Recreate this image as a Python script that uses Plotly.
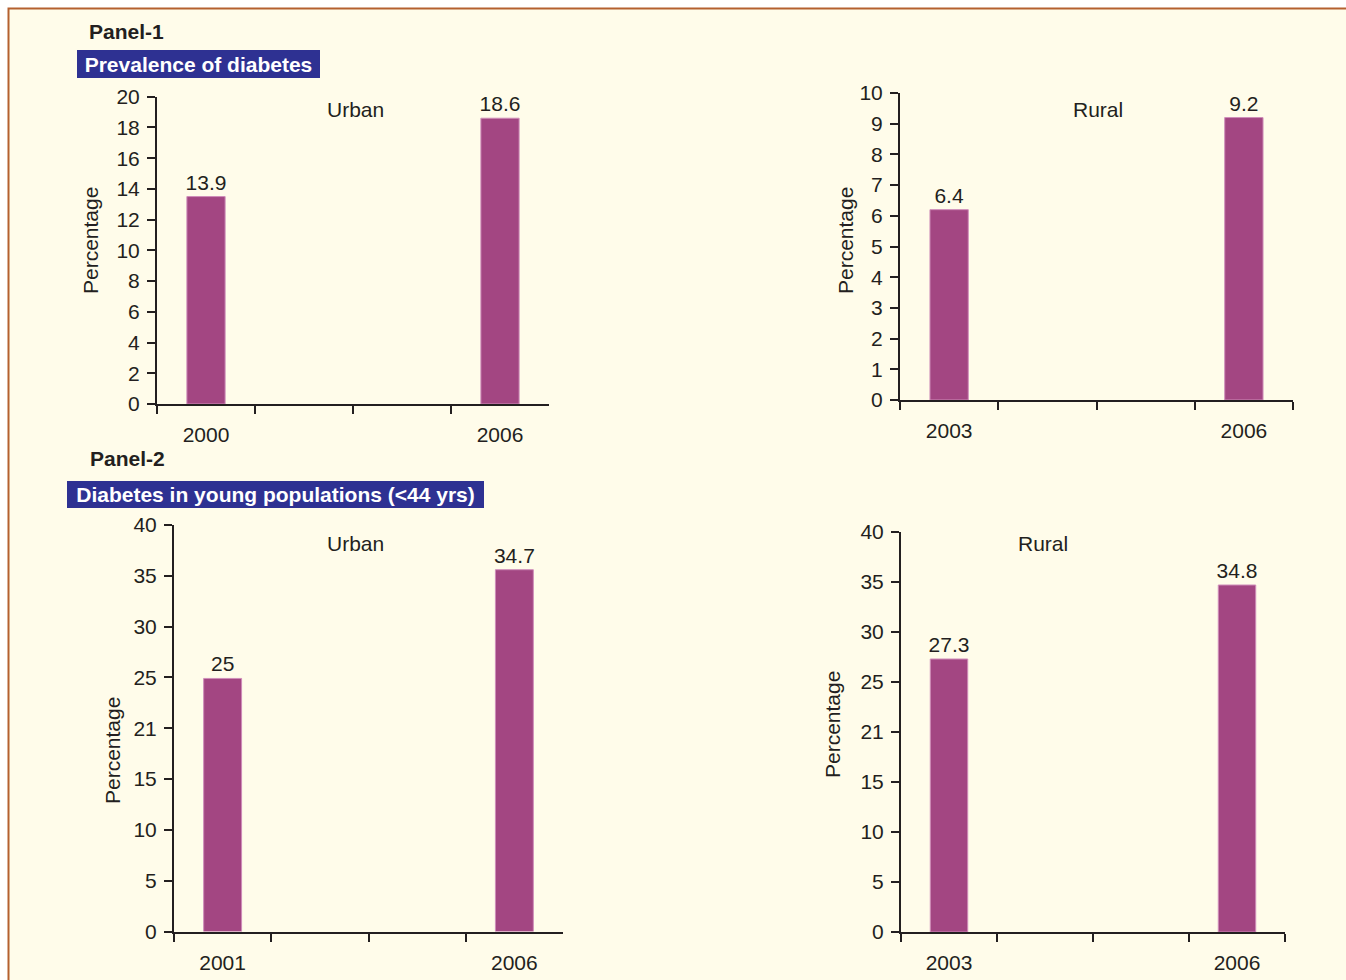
import plotly.graph_objects as go

# ---------------- data ----------------
p1_urban_cats = ["2000", " ", "  ", "2006"]
p1_urban_years = ["2000", "2006"]
p1_urban_vals = [13.5, 18.6]
p1_urban_labels = ["13.9", "18.6"]

p1_rural_cats = ["2003", " ", "  ", "2006"]
p1_rural_years = ["2003", "2006"]
p1_rural_vals = [6.2, 9.2]
p1_rural_labels = ["6.4", "9.2"]

p2_urban_cats = ["2001", " ", "  ", "2006"]
p2_urban_years = ["2001", "2006"]
p2_urban_vals = [24.9, 35.6]
p2_urban_labels = ["25", "34.7"]

p2_rural_cats = ["2003", " ", "  ", "2006"]
p2_rural_years = ["2003", "2006"]
p2_rural_vals = [27.3, 34.7]
p2_rural_labels = ["27.3", "34.8"]

p1_urban_yticks = list(range(0, 21, 2))
p1_rural_yticks = list(range(0, 11, 1))
p2_yticks = [0, 5, 10, 15, 20, 25, 30, 35, 40]
p2_yticktext = ["0", "5", "10", "15", "21", "25", "30", "35", "40"]

# ---------------- style ----------------
W, H = 1346, 980
MT, MB = 40, 40          # fixed margins; paper coords are relative to the inner area
PH = H - MT - MB
FONT = "Liberation Sans, Arial, sans-serif"
FS = 21
DARK = "#231F20"
BAR = "#A34682"
CREAM = "#FFFCEA"
NAVY = "#2E3192"
BROWN = "#B4602F"


def px(x):
    return x / W


def py(y):
    return 1 - (y - MT) / PH


def dx(a, b):
    return [px(a), px(b)]


def dy(top, bottom):
    return [py(bottom), py(top)]


fig = go.Figure()

panels = [
    (p1_urban_cats, p1_urban_years, p1_urban_vals, p1_urban_labels,
     dx(157, 549), dy(96.7, 404), [0, 20], p1_urban_yticks, [str(v) for v in p1_urban_yticks]),
    (p1_rural_cats, p1_rural_years, p1_rural_vals, p1_rural_labels,
     dx(900, 1293), dy(93, 400), [0, 10], p1_rural_yticks, [str(v) for v in p1_rural_yticks]),
    (p2_urban_cats, p2_urban_years, p2_urban_vals, p2_urban_labels,
     dx(174, 563), dy(525, 931.5), [0, 40], p2_yticks, p2_yticktext),
    (p2_rural_cats, p2_rural_years, p2_rural_vals, p2_rural_labels,
     dx(901, 1285), dy(532, 932), [0, 40], p2_yticks, p2_yticktext),
]

for i, (cats, years, vals, labels, xd, yd, yr, tv, tt) in enumerate(panels, start=1):
    xa = "x" if i == 1 else f"x{i}"
    ya = "y" if i == 1 else f"y{i}"
    fig.add_trace(go.Bar(
        x=years, y=vals, text=labels, textposition="outside",
        constraintext="none",
        textfont=dict(family=FONT, size=FS, color=DARK),
        marker=dict(color=BAR, line=dict(color="#CF8DB9", width=1)),
        width=0.39, cliponaxis=False, xaxis=xa, yaxis=ya, showlegend=False,
        hoverinfo="skip",
    ))
    xkey = "xaxis" if i == 1 else f"xaxis{i}"
    ykey = "yaxis" if i == 1 else f"yaxis{i}"
    fig.update_layout(**{
        xkey: dict(
            domain=xd, anchor=ya, type="category",
            categoryorder="array", categoryarray=cats, range=[-0.5, 3.5],
            tickson="boundaries", ticks="outside", ticklen=8, tickwidth=2,
            tickcolor=DARK, showline=True, linecolor=DARK, linewidth=2,
            showgrid=False, zeroline=False, ticklabelstandoff=11,
            automargin=False,
            tickfont=dict(family=FONT, size=FS, color=DARK), fixedrange=True,
        ),
        ykey: dict(
            domain=yd, anchor=xa, range=yr, tickmode="array",
            tickvals=tv, ticktext=tt, ticks="outside", ticklen=8, tickwidth=2,
            tickcolor=DARK, showline=True, linecolor=DARK, linewidth=2,
            showgrid=False, zeroline=False, ticklabelstandoff=3,
            automargin=False,
            tickfont=dict(family=FONT, size=FS, color=DARK), fixedrange=True,
        ),
    })

ann = []


def text_ann(x, y, text, bold=False, angle=0, color=DARK):
    ann.append(dict(
        x=px(x), y=py(y), xref="paper", yref="paper",
        text=f"<b>{text}</b>" if bold else text,
        showarrow=False, textangle=angle, xanchor="center", yanchor="middle",
        font=dict(family=FONT, size=FS, color=color),
    ))


text_ann(126, 32, "Panel-1", bold=True)
text_ann(127, 458, "Panel-2", bold=True)
text_ann(355, 109, "Urban")
text_ann(1098, 109, "Rural")
text_ann(355, 543, "Urban")
text_ann(1043, 543, "Rural")
text_ann(90, 241, "Percentage", angle=-90)
text_ann(845, 241, "Percentage", angle=-90)
text_ann(112, 751, "Percentage", angle=-90)
text_ann(832, 725, "Percentage", angle=-90)


def box_ann(x0, x1, y0, y1, text):
    ann.append(dict(
        x=px((x0 + x1) / 2), y=py((y0 + y1) / 2), xref="paper", yref="paper",
        text=f"<b>{text}</b>", showarrow=False, xanchor="center", yanchor="middle",
        width=x1 - x0 - 2, height=y1 - y0 - 2, borderpad=0, borderwidth=1,
        bordercolor=NAVY, bgcolor=NAVY, align="center", valign="middle",
        font=dict(family=FONT, size=FS, color="white"),
    ))


box_ann(77, 320, 50, 78, "Prevalence of diabetes")
box_ann(67, 484, 481, 508, "Diabetes in young populations (&lt;44 yrs)")

fig.update_layout(
    width=W, height=H, margin=dict(l=0, r=0, t=MT, b=MB, pad=0),
    autosize=False,
    paper_bgcolor="white", plot_bgcolor="rgba(0,0,0,0)",
    annotations=ann, bargap=0.6,
    shapes=[dict(type="rect", xref="paper", yref="paper", layer="below",
                 x0=px(8.5), x1=px(1360), y0=py(1000), y1=py(8.5),
                 fillcolor=CREAM, line=dict(color=BROWN, width=2))],
)

fig.write_html("out.html")
